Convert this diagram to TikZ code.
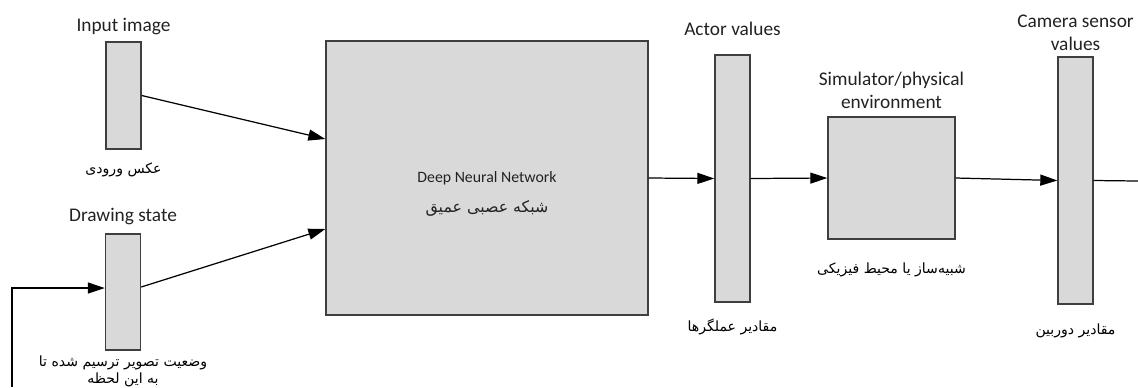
\documentclass[tikz,border=0pt]{standalone}
\usepackage{fontspec}
\setmainfont{Carlito}
\newfontfamily\arabicfont[Script=Arabic]{DejaVu Sans}
\TeXXeTstate=1
\usetikzlibrary{arrows.meta,positioning}
\definecolor{boxfill}{HTML}{D9D9D9}
\definecolor{boxline}{HTML}{3F3F3F}
\definecolor{ink}{HTML}{222222}
\newcommand{\fatext}[1]{{\arabicfont\beginR #1\endR}}
\tikzset{
  post/.style    = {-{Triangle[length=3.4mm,width=2.2mm]}, line width=0.7pt},
  wire/.style    = {line width=0.7pt},
  slab/.style    = {draw=boxline, fill=boxfill, line width=0.8pt, minimum width=0.7cm},
  block/.style   = {draw=boxline, fill=boxfill, line width=0.8pt},
  caption/.style = {inner sep=0pt, align=center, text=ink, font=\fontsize{11}{13.5}\selectfont},
  fa/.style      = {inner sep=0pt, align=center, text=black, font=\fontsize{8}{10}\selectfont}
}

\begin{document}
\begin{tikzpicture}[x=0.02cm, y=-0.02cm]
  \useasboundingbox (0,0) rectangle (1138,387);

  % inputs
  \node[slab, minimum height=2.14cm] (img)   at (123.5,95.5) {};
  \node[slab, minimum height=2.32cm] (state) at (123,292) {};
  \node[caption, above=1.2mm of img]   (img-cap)   {Input image};
  \node[caption, above=1.6mm of state] (state-cap) {Drawing state};
  \node[fa, below=2.6mm of img]    (img-fa)   {\fatext{عکس ورودی}};
  \node[fa, below=0.9mm of state]  (state-fa) {\fatext{وضعیت تصویر ترسیم شده تا}\\\fatext{به این لحظه}};

  % network
  \node[block, minimum width=6.44cm, minimum height=5.48cm] (dnn) at (487,178) {};
  \node[align=center, text=ink, font=\fontsize{9}{11}\selectfont] (dnn-txt)
    at ([yshift=-0.32cm]dnn.center) {Deep Neural Network\\[6pt]\fatext{شبکه عصبی عمیق}};

  % actor, simulator, camera
  \node[slab, minimum height=4.94cm] (actor) at (732.5,178.5) {};
  \node[block, minimum width=2.54cm, minimum height=2.44cm] (sim) at (891.5,178) {};
  \node[slab, minimum height=4.94cm] (cam) at (1075.5,180.5) {};
  \node[caption, above=3.6mm of actor] (actor-cap) {Actor values};
  \node[caption, above=1.4mm of sim]   (sim-cap)   {Simulator/physical\\environment};
  \node[caption, above=1mm of cam]     (cam-cap)   {Camera sensor\\values};
  \node[fa, below=3.2mm of actor] (actor-fa) {\fatext{مقادیر عملگرها}};
  \node[fa, below=4.6mm of sim]   (sim-fa)   {\fatext{شبیه‌ساز یا محیط فیزیکی}};
  \node[fa, below=3.8mm of cam]   (cam-fa)   {\fatext{مقادیر دوربین}};

  % connectors
  \coordinate (loop) at (12,387);
  \coordinate (out)  at (1138,181);
  \draw[post] (img.east) -- ([yshift=0.78cm]dnn.west);
  \draw[post] ([yshift=0.1cm]state.east) -- ([yshift=-1.02cm]dnn.west);
  \draw[post] (loop) |- ([yshift=0.08cm]state.west);
  \draw[post] (dnn.east) -- (actor.west);
  \draw[post] (actor.east) -- (sim.west);
  \draw[post] (sim.east) -- (cam.west);
  \draw[wire] (cam.east) -- (out);
\end{tikzpicture}
\end{document}
